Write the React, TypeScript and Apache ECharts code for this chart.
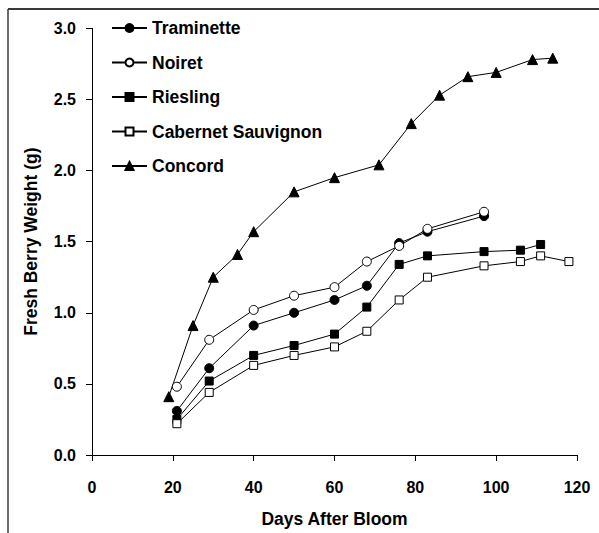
import React, { useEffect, useRef } from "react";
import * as echarts from "echarts";

const xTicks = [0, 20, 40, 60, 80, 100, 120];
const yTicks = [0, 0.5, 1.0, 1.5, 2.0, 2.5, 3.0];

const traminetteDays = [21, 29, 40, 50, 60, 68, 76, 83, 97];
const traminetteWeight = [0.31, 0.61, 0.91, 1.0, 1.09, 1.19, 1.49, 1.57, 1.68];

const noiretDays = [21, 29, 40, 50, 60, 68, 76, 83, 97];
const noiretWeight = [0.48, 0.81, 1.02, 1.12, 1.18, 1.36, 1.47, 1.59, 1.71];

const rieslingDays = [21, 29, 40, 50, 60, 68, 76, 83, 97, 106, 111];
const rieslingWeight = [0.25, 0.52, 0.7, 0.77, 0.85, 1.04, 1.34, 1.4, 1.43, 1.44, 1.48];

const cabernetDays = [21, 29, 40, 50, 60, 68, 76, 83, 97, 106, 111, 118];
const cabernetWeight = [0.22, 0.44, 0.63, 0.7, 0.76, 0.87, 1.09, 1.25, 1.33, 1.36, 1.4, 1.36];

const concordDays = [19, 25, 30, 36, 40, 50, 60, 71, 79, 86, 93, 100, 109, 114];
const concordWeight = [0.41, 0.91, 1.25, 1.41, 1.57, 1.85, 1.95, 2.04, 2.33, 2.53, 2.66, 2.69, 2.78, 2.79];

const FONT = "'Liberation Sans', Arial, sans-serif";

function pairs(xs: number[], ys: number[]) {
  return xs.map((x, i) => [x, ys[i]]);
}

export default function App() {
  const ref = useRef<HTMLDivElement>(null);
  useEffect(() => {
    if (!ref.current) return;
    const chart = echarts.init(ref.current, undefined, { renderer: "svg" });
    const mk = (
      name: string,
      xs: number[],
      ys: number[],
      symbol: string,
      size: number,
      filled: boolean
    ) => ({
      name,
      type: "line",
      data: pairs(xs, ys),
      symbol,
      symbolSize: size,
      showAllSymbol: true,
      lineStyle: { color: "#000", width: 1 },
      itemStyle: {
        color: filled ? "#000" : "#fff",
        borderColor: "#000",
        borderWidth: 1,
      },
      emphasis: { disabled: true },
      z: 2,
    });
    chart.setOption({
      animation: false,
      backgroundColor: "#fff",
      textStyle: { fontFamily: FONT },
      grid: { left: 92, right: 22, top: 28.3, bottom: 76.3, containLabel: false },
      legend: {
        orient: "vertical",
        left: 106,
        top: 13,
        itemWidth: 35,
        itemHeight: 10,
        itemGap: 14.5,
        textStyle: {
          fontFamily: FONT,
          fontWeight: "bold",
          fontSize: 17.5,
          color: "#000",
          lineHeight: 20,
        },
        data: ["Traminette", "Noiret", "Riesling", "Cabernet Sauvignon", "Concord"],
      },
      xAxis: {
        type: "value",
        min: xTicks[0],
        max: xTicks[xTicks.length - 1],
        interval: 20,
        name: "Days After Bloom",
        nameLocation: "middle",
        nameGap: 55,
        nameTextStyle: { fontFamily: FONT, fontWeight: "bold", fontSize: 17.5, color: "#000" },
        axisLine: { lineStyle: { color: "#000", width: 1 } },
        axisTick: { show: true, inside: false, length: 6, lineStyle: { color: "#000" } },
        axisLabel: {
          margin: 24,
          fontFamily: FONT,
          fontWeight: "bold",
          fontSize: 16,
          color: "#000",
        },
        splitLine: { show: false },
      },
      yAxis: {
        type: "value",
        min: yTicks[0],
        max: yTicks[yTicks.length - 1],
        interval: 0.5,
        name: "Fresh Berry Weight (g)",
        nameLocation: "middle",
        nameGap: 52,
        nameTextStyle: { fontFamily: FONT, fontWeight: "bold", fontSize: 17.5, color: "#000" },
        axisLine: { show: true, lineStyle: { color: "#000", width: 1 } },
        axisTick: { show: true, inside: false, length: 6, lineStyle: { color: "#000" } },
        axisLabel: {
          margin: 16,
          fontFamily: FONT,
          fontWeight: "bold",
          fontSize: 16,
          color: "#000",
          formatter: (v: number) => v.toFixed(1),
        },
        splitLine: { show: false },
      },
      graphic: [
        {
          type: "line",
          shape: { x1: 8, y1: 9, x2: 599, y2: 9 },
          style: { stroke: "#3a3a3a", lineWidth: 2 },
        },
        {
          type: "line",
          shape: { x1: 8, y1: 9, x2: 8, y2: 533 },
          style: { stroke: "#3a3a3a", lineWidth: 1.5 },
        },
      ],
      series: [
        mk("Traminette", traminetteDays, traminetteWeight, "circle", 9, true),
        mk("Noiret", noiretDays, noiretWeight, "circle", 9, false),
        mk("Riesling", rieslingDays, rieslingWeight, "rect", 8, true),
        mk("Cabernet Sauvignon", cabernetDays, cabernetWeight, "rect", 8, false),
        mk("Concord", concordDays, concordWeight, "triangle", 10, true),
      ],
    });
    return () => chart.dispose();
  }, []);
  return <div ref={ref} style={{ width: 599, height: 533, position: "absolute", left: 0, top: 0 }} />;
}
